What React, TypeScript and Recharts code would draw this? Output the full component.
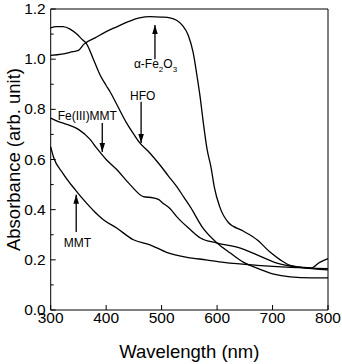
import React from 'react';
import { LineChart, Line, XAxis, YAxis, ReferenceLine, ReferenceDot } from 'recharts';

// wavelength (nm) / absorbance pairs
const hematiteNm = [300, 320, 340, 350, 360, 380, 400, 420, 440, 460, 480, 500, 515, 527, 537, 548, 557, 564, 570, 575, 582, 589, 595, 605, 620, 647, 672, 696, 714, 732, 755, 770, 785, 800];
const hematiteAbs = [1.015, 1.02, 1.03, 1.035, 1.06, 1.085, 1.11, 1.13, 1.15, 1.165, 1.17, 1.168, 1.165, 1.155, 1.136, 1.095, 1.025, 0.93, 0.84, 0.75, 0.64, 0.57, 0.49, 0.41, 0.35, 0.315, 0.28, 0.23, 0.2, 0.178, 0.17, 0.168, 0.19, 0.205];

const hfoNm = [300, 310, 322, 335, 347, 356, 365, 376, 389, 400, 407, 419, 437, 450, 461, 475, 485, 497, 512, 528, 540, 552, 575, 600, 624, 648, 672, 702, 732, 770, 800];
const hfoAbs = [1.125, 1.13, 1.13, 1.12, 1.1, 1.08, 1.06, 1.005, 0.937, 0.895, 0.87, 0.82, 0.745, 0.7, 0.665, 0.635, 0.61, 0.578, 0.535, 0.49, 0.45, 0.41, 0.325, 0.267, 0.227, 0.19, 0.167, 0.143, 0.132, 0.128, 0.128];

const feMmtNm = [300, 315, 329, 350, 371, 383, 400, 419, 443, 467, 485, 495, 503, 515, 528, 552, 570, 600, 642, 672, 708, 750, 800];
const feMmtAbs = [0.765, 0.75, 0.74, 0.72, 0.68, 0.645, 0.6, 0.56, 0.5, 0.452, 0.447, 0.44, 0.425, 0.405, 0.37, 0.32, 0.287, 0.267, 0.247, 0.22, 0.187, 0.17, 0.16];

const mmtNm = [300, 305, 322, 344, 365, 380, 395, 419, 449, 479, 509, 546, 580, 612, 672, 732, 800];
const mmtAbs = [0.65, 0.61, 0.545, 0.48, 0.425, 0.39, 0.36, 0.327, 0.28, 0.26, 0.23, 0.21, 0.2, 0.19, 0.178, 0.17, 0.165];

const xTicks = [300, 350, 400, 450, 500, 550, 600, 650, 700, 750, 800];
const yTicks = [0, 0.1, 0.2, 0.3, 0.4, 0.5, 0.6, 0.7, 0.8, 0.9, 1.0, 1.1, 1.2];

const FONT = '"Liberation Sans", Arial, sans-serif';

const toPoints = (nm: number[], abs: number[]) => nm.map((x, i) => ({ nm: x, a: abs[i] }));

const series = [
    { key: 'hematite', data: toPoints(hematiteNm, hematiteAbs) },
    { key: 'hfo', data: toPoints(hfoNm, hfoAbs) },
    { key: 'femmt', data: toPoints(feMmtNm, feMmtAbs) },
    { key: 'mmt', data: toPoints(mmtNm, mmtAbs) },
];

// label anchor + arrow (tail -> tip), in data units
const notes = [
    { key: 'hematite', label: 'hematite', lx: 489, ly: 0.965, ax: 488, from: 1.0, to: 1.136 },
    { key: 'hfo', label: 'HFO', lx: 466, ly: 0.837, ax: 463, from: 0.83, to: 0.666 },
    { key: 'femmt', label: 'Fe(III)MMT', lx: 366, ly: 0.758, ax: 393, from: 0.746, to: 0.63 },
    { key: 'mmt', label: 'MMT', lx: 348, ly: 0.251, ax: 346, from: 0.311, to: 0.459 },
];

const XTick = ({ x, y, payload }: any) => {
    const major = payload.value % 100 === 0;
    return (
        <g>
            <line x1={x} x2={x} y1={y} y2={y - (major ? 5 : 3)} stroke="#000" />
            {major && (
                <text x={x} y={y + 13} textAnchor="middle" fontSize={15.5} fontFamily={FONT} fill="#000">
                    {payload.value}
                </text>
            )}
        </g>
    );
};

const YTick = ({ x, y, payload }: any) => {
    const major = Math.round(payload.value * 10) % 2 === 0;
    return (
        <g>
            <line x1={x} x2={x + (major ? 5 : 3)} y1={y} y2={y} stroke="#000" />
            {major && (
                <text x={x - 5} y={y + 5} textAnchor="end" fontSize={15.5} fontFamily={FONT} fill="#000">
                    {payload.value.toFixed(1)}
                </text>
            )}
        </g>
    );
};

const NoteText = ({ cx, cy, label }: any) => {
    if (label === 'hematite') {
        return (
            <text x={cx} y={cy} textAnchor="middle" fontSize={12} fontFamily={FONT} fill="#000">
                α-Fe<tspan fontSize={8} dy={4}>2</tspan>
                <tspan dy={-4}>O</tspan>
                <tspan fontSize={8} dy={4}>3</tspan>
            </text>
        );
    }
    return (
        <text x={cx} y={cy} textAnchor="middle" fontSize={12} fontFamily={FONT} fill="#000">
            {label}
        </text>
    );
};

const ArrowHead = ({ cx, cy, up }: any) => {
    const d = up ? 9 : -9;
    return <polygon points={`${cx},${cy} ${cx - 2.8},${cy + d} ${cx + 2.8},${cy + d}`} fill="#000" />;
};

export default function App() {
    return (
        <div style={{ position: 'absolute', left: 0, top: 0, background: '#fff' }}>
            <LineChart width={342} height={364} margin={{ top: 9, right: 14, left: 5, bottom: 0 }}>
                <XAxis
                    type="number"
                    dataKey="nm"
                    domain={[300, 800]}
                    ticks={xTicks}
                    height={54}
                    tickSize={0}
                    tickMargin={0}
                    tickLine={false}
                    tick={<XTick />}
                    axisLine={{ stroke: '#000' }}
                    label={{ value: 'Wavelength (nm)', position: 'insideBottom', offset: 6, fontSize: 18.5, fontFamily: FONT, fill: '#000' }}
                />
                <YAxis
                    type="number"
                    domain={[0, 1.2]}
                    ticks={yTicks}
                    width={45.7}
                    tickSize={0}
                    tickMargin={0}
                    tickLine={false}
                    tick={<YTick />}
                    axisLine={{ stroke: '#000' }}
                    label={{ value: 'Absorbance (arb. unit)', angle: -90, position: 'insideLeft', offset: 8, fontSize: 18.5, fontFamily: FONT, fill: '#000', style: { textAnchor: 'middle' } }}
                />
                <ReferenceLine x={800} stroke="#000" />
                <ReferenceLine y={1.2} stroke="#000" />
                {series.map((s) => (
                    <Line
                        key={s.key}
                        data={s.data}
                        dataKey="a"
                        type="monotone"
                        stroke="#000"
                        strokeWidth={1.3}
                        dot={false}
                        isAnimationActive={false}
                    />
                ))}
                {notes.map((n) => (
                    <ReferenceLine
                        key={`shaft-${n.key}`}
                        segment={[{ x: n.ax, y: n.from }, { x: n.ax, y: n.to }]}
                        stroke="#000"
                        strokeWidth={1.3}
                    />
                ))}
                {notes.map((n) => (
                    <ReferenceDot
                        key={`head-${n.key}`}
                        x={n.ax}
                        y={n.to}
                        r={0}
                        shape={(p: any) => <ArrowHead cx={p.cx} cy={p.cy} up={n.to > n.from} />}
                    />
                ))}
                {notes.map((n) => (
                    <ReferenceDot
                        key={`text-${n.key}`}
                        x={n.lx}
                        y={n.ly}
                        r={0}
                        shape={(p: any) => <NoteText cx={p.cx} cy={p.cy} label={n.label} />}
                    />
                ))}
            </LineChart>
        </div>
    );
}
